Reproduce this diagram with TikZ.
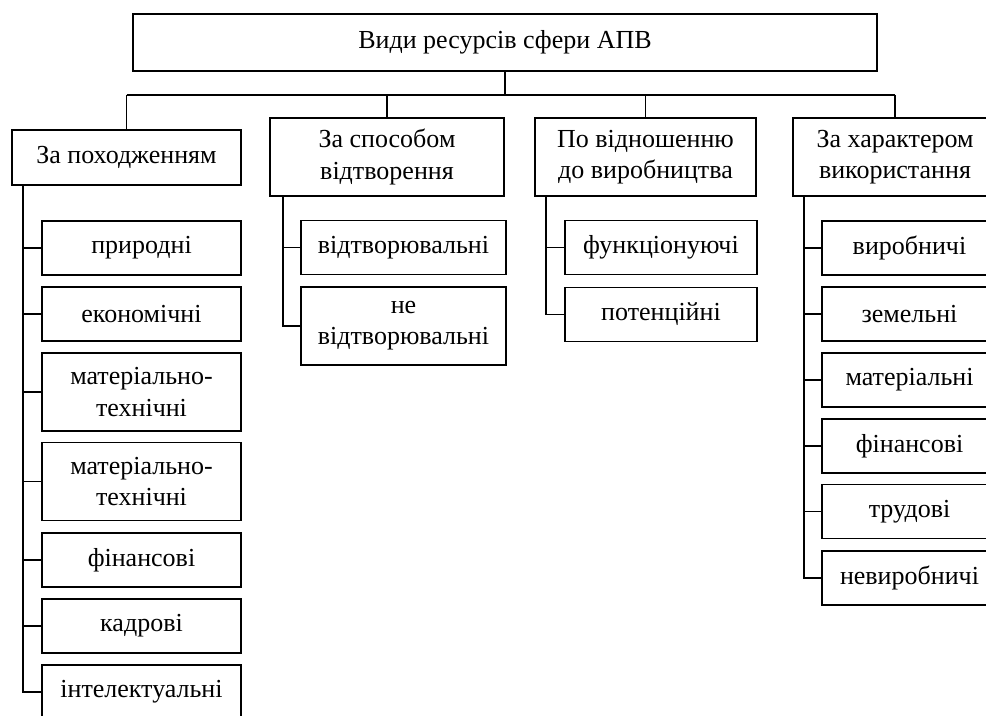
\documentclass[tikz,border=0pt]{standalone}
\usepackage{fontspec}
\setmainfont{Liberation Serif}
\begin{document}
\begin{tikzpicture}[x=0.5pt,y=-0.5pt,
  box/.style={draw, line width=0.9pt, align=center, inner sep=0pt,
    font=\fontsize{13}{15.6}\selectfont},
  conn/.style={line width=0.9pt},
  lbox/.style={box, minimum width=99.5pt},
  mbox/.style={box, minimum width=102.5pt},
  pbox/.style={box, minimum width=96pt},
  rbox/.style={box, minimum width=87.5pt},
  one/.style={minimum height=27pt},
  two/.style={minimum height=39pt}]
\useasboundingbox (0,0) rectangle (986,716);
\clip (0,0) rectangle (986,716);
\fill[white] (0,0) rectangle (986,716);
% top
\node[box, minimum width=372pt, minimum height=28.5pt] (top) at (505,42.5) {Види ресурсів сфери АПВ};
% categories
\node[box, minimum width=114.5pt, minimum height=27.5pt] (b1) at (126.5,157.5) {За походженням};
\node[box, minimum width=117pt, two] (b2) at (387,157) {За способом\\відтворення};
\node[box, minimum width=110.5pt, two] (b3) at (645.5,157) {По відношенню\\до виробництва};
\node[box, minimum width=102pt, two] (b4) at (895,157) {За характером\\використання};
% column 1
\node[lbox, one] (l1) at (141.5,248) {природні};
\node[lbox, one] (l2) at (141.5,314) {економічні};
\node[lbox, two] (l3) at (141.5,392) {матеріально-\\технічні};
\node[lbox, two] (l4) at (141.5,481.5) {матеріально-\\технічні};
\node[lbox, one] (l5) at (141.5,560) {фінансові};
\node[lbox, one] (l6) at (141.5,626) {кадрові};
\node[lbox, one] (l7) at (141.5,692) {інтелектуальні};
% column 2
\node[mbox, one] (m1) at (403.5,247.5) {відтворювальні};
\node[mbox, two] (m2) at (403.5,326) {не\\відтворювальні};
% column 3
\node[pbox, one] (p1) at (661,247.5) {функціонуючі};
\node[pbox, one] (p2) at (661,314.5) {потенційні};
% column 4
\node[rbox, one] (r1) at (909.5,248) {виробничі};
\node[rbox, one] (r2) at (909.5,314) {земельні};
\node[rbox, one] (r3) at (909.5,380) {матеріальні};
\node[rbox, one] (r4) at (909.5,446) {фінансові};
\node[rbox, one] (r5) at (909.5,511.5) {трудові};
\node[rbox, one] (r6) at (909.5,578) {невиробничі};
% bus
\coordinate (bus) at (0,95);
\draw[conn] (top.south) -- (top.south |- bus);
\draw[conn] (b1.north |- bus) -- (b4.north |- bus);
\foreach \b in {b1,b2,b3,b4} \draw[conn] (\b.north |- bus) -- (\b.north);
% spines
\coordinate (s1) at (23,0);
\coordinate (s2) at (283,0);
\coordinate (s3) at (546,0);
\coordinate (s4) at (804,0);
\draw[conn] (b1.south -| s1) |- (l7.west);
\foreach \n in {l1,l2,l3,l4,l5,l6} \draw[conn] (\n.west -| s1) -- (\n.west);
\draw[conn] (b2.south -| s2) |- (m2.west);
\draw[conn] (m1.west -| s2) -- (m1.west);
\draw[conn] (b3.south -| s3) |- (p2.west);
\draw[conn] (p1.west -| s3) -- (p1.west);
\draw[conn] (b4.south -| s4) |- (r6.west);
\foreach \n in {r1,r2,r3,r4,r5} \draw[conn] (\n.west -| s4) -- (\n.west);
\end{tikzpicture}
\end{document}
